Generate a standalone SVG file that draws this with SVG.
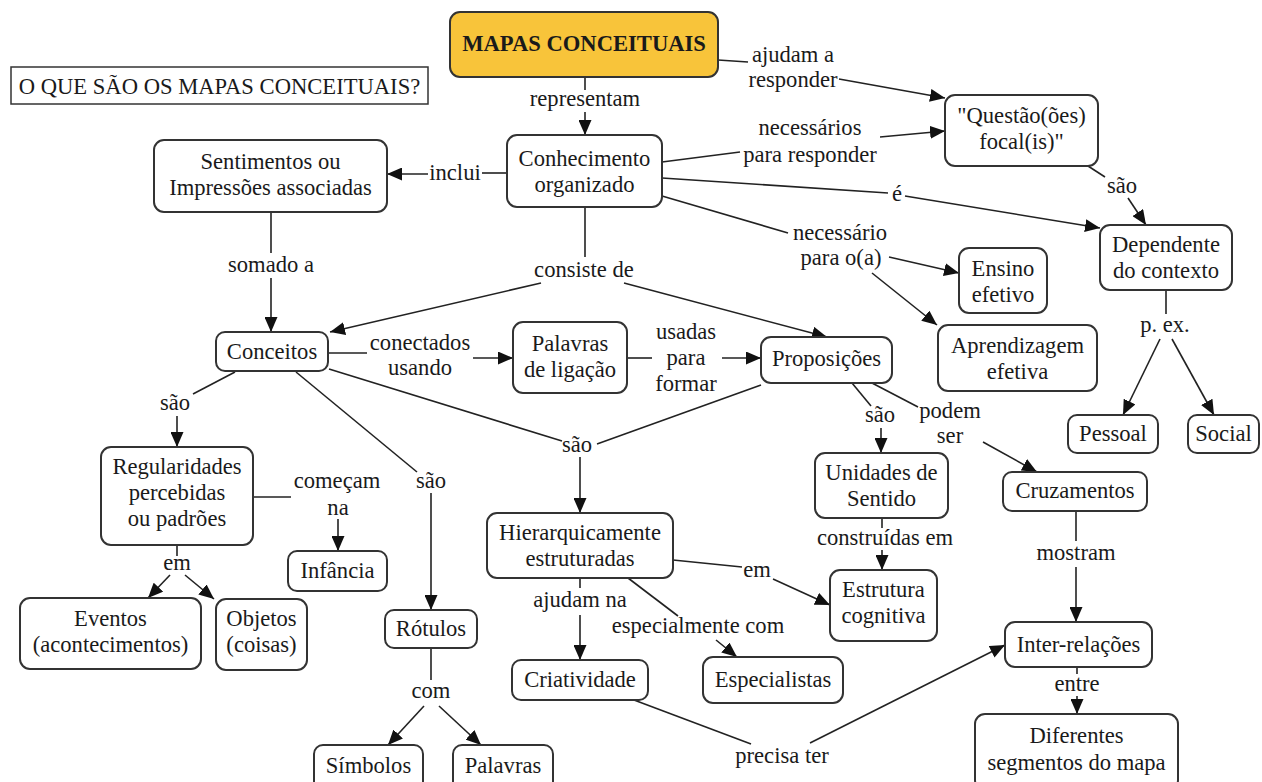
<svg xmlns="http://www.w3.org/2000/svg" width="1262" height="782" viewBox="0 0 1262 782">
<style>
text{font-family:'Liberation Serif','Times New Roman',Tinos,'DejaVu Serif',serif;font-size:22.6px;fill:#1a1a1a;text-anchor:middle}
.n{fill:#fff;stroke:#333;stroke-width:2}
.c line{stroke:#222;stroke-width:1.6}
.a{marker-end:url(#ah)}
.bold{font-weight:bold}
</style>
<defs>
<marker id="ah" markerUnits="userSpaceOnUse" markerWidth="16" markerHeight="13" refX="15" refY="6.5" orient="auto">
<path d="M0,0 L15,6.5 L0,13 z" fill="#111"/>
</marker>
</defs>
<rect width="1262" height="782" fill="#fff"/>
<g font-family="Liberation Serif, serif">
<g id="title"><rect x="11" y="67" width="417" height="37" fill="#fff" stroke="#333" stroke-width="1.5"/><text x="219.5" y="93.5">O QUE SÃO OS MAPAS CONCEITUAIS?</text></g>

<g class="c" id="connectors">
<line x1="585" y1="77" x2="585" y2="90"/><line class="a" x1="585" y1="112" x2="585" y2="135"/>
<line x1="718" y1="60" x2="748" y2="62"/><line class="a" x1="839" y1="79" x2="945" y2="98"/>
<line x1="662" y1="162" x2="740" y2="152"/><line class="a" x1="880" y1="137" x2="945" y2="131"/>
<line x1="662" y1="178" x2="888" y2="193"/><line class="a" x1="905" y1="196" x2="1100" y2="228"/>
<line x1="662" y1="196" x2="788" y2="233"/><line class="a" x1="889" y1="257" x2="959" y2="273"/><line class="a" x1="872" y1="273" x2="937" y2="325"/>
<line x1="507" y1="173" x2="482" y2="173"/><line class="a" x1="428" y1="174" x2="387" y2="174"/>
<line x1="585" y1="207" x2="585" y2="257"/><line class="a" x1="541" y1="283" x2="330" y2="332"/><line class="a" x1="624" y1="283" x2="827" y2="337"/>
<line x1="271" y1="212" x2="271" y2="253"/><line class="a" x1="271" y1="278" x2="271" y2="332"/>
<line x1="328" y1="353" x2="367" y2="353"/><line class="a" x1="473" y1="358" x2="513" y2="358"/>
<line x1="627" y1="358" x2="652" y2="358"/><line class="a" x1="722" y1="358" x2="761" y2="358"/>
<line x1="329" y1="369" x2="562" y2="441"/><line x1="761" y1="385" x2="597" y2="444"/><line class="a" x1="580" y1="457" x2="580" y2="513"/>
<line x1="235" y1="372" x2="193" y2="394"/><line class="a" x1="177" y1="416" x2="177" y2="447"/>
<line x1="253" y1="497" x2="291" y2="497"/><line class="a" x1="338" y1="519" x2="338" y2="551"/>
<line x1="296" y1="372" x2="417" y2="472"/><line class="a" x1="431" y1="493" x2="431" y2="610"/>
<line x1="177" y1="545" x2="177" y2="556"/><line class="a" x1="170" y1="575" x2="148" y2="598"/><line class="a" x1="185" y1="575" x2="214" y2="599"/>
<line x1="431" y1="648" x2="431" y2="680"/><line class="a" x1="424" y1="706" x2="388" y2="745"/><line class="a" x1="439" y1="706" x2="481" y2="745"/>
<line x1="673" y1="560" x2="742" y2="567"/><line class="a" x1="773" y1="579" x2="830" y2="605"/>
<line x1="580" y1="578" x2="580" y2="588"/><line class="a" x1="580" y1="615" x2="580" y2="660"/>
<line x1="628" y1="578" x2="678" y2="616"/><line class="a" x1="716" y1="640" x2="737" y2="657"/>
<line x1="634" y1="700" x2="751" y2="744"/><line class="a" x1="810" y1="743" x2="1005" y2="645"/>
<line x1="852" y1="383" x2="871" y2="406"/><line class="a" x1="881" y1="428" x2="881" y2="453"/>
<line x1="872" y1="383" x2="918" y2="407"/><line class="a" x1="983" y1="442" x2="1037" y2="472"/>
<line x1="882" y1="518" x2="882" y2="528"/><line class="a" x1="882" y1="550" x2="882" y2="570"/>
<line x1="1076" y1="511" x2="1076" y2="541"/><line class="a" x1="1076" y1="567" x2="1076" y2="622"/>
<line x1="1077" y1="667" x2="1077" y2="674"/><line class="a" x1="1077" y1="696" x2="1077" y2="714"/>
<line x1="1088" y1="166" x2="1105" y2="177"/><line class="a" x1="1128" y1="198" x2="1146" y2="225"/>
<line x1="1166" y1="290" x2="1166" y2="314"/><line class="a" x1="1160" y1="339" x2="1123" y2="415"/><line class="a" x1="1172" y1="339" x2="1214" y2="415"/>
</g>

<g id="labels">
<text x="585" y="106">representam</text>
<text x="793" y="62">ajudam a</text><text x="793" y="87">responder</text>
<text x="810" y="135">necessários</text><text x="810" y="162">para responder</text>
<text x="897" y="201">é</text>
<text x="1122" y="193">são</text>
<text x="840" y="240">necessário</text><text x="841" y="265">para o(a)</text>
<text x="455" y="180">inclui</text>
<text x="584" y="277">consiste de</text>
<text x="271" y="272">somado a</text>
<text x="420" y="350">conectados</text><text x="420" y="375">usando</text>
<text x="686" y="339">usadas</text><text x="686" y="365">para</text><text x="686" y="391">formar</text>
<text x="577" y="452">são</text>
<text x="175" y="410">são</text>
<text x="337" y="488">começam</text><text x="338" y="515">na</text>
<text x="431" y="488">são</text>
<text x="177" y="570">em</text>
<text x="431" y="698">com</text>
<text x="757" y="577">em</text>
<text x="580" y="607">ajudam na</text>
<text x="698" y="633">especialmente com</text>
<text x="782" y="763">precisa ter</text>
<text x="880" y="422">são</text>
<text x="950" y="418">podem</text><text x="950" y="443">ser</text>
<text x="885" y="545">construídas em</text>
<text x="1076" y="560">mostram</text>
<text x="1077" y="691">entre</text>
<text x="1165" y="332">p. ex.</text>
</g>

<g id="n-mapas"><rect x="450" y="12" width="268" height="65" rx="10" fill="#F8C43A" stroke="#333" stroke-width="2"/><text class="bold" x="584" y="51">MAPAS CONCEITUAIS</text></g>
<g id="n-conhecimento"><rect class="n" x="507" y="135" width="155" height="72" rx="10"/><text x="584.5" y="166">Conhecimento</text><text x="584.5" y="192">organizado</text></g>
<g id="n-sentimentos"><rect class="n" x="154" y="140" width="233" height="72" rx="10"/><text x="270.5" y="169">Sentimentos ou</text><text x="270.5" y="195">Impressões associadas</text></g>
<g id="n-questao"><rect class="n" x="945" y="95" width="153" height="71" rx="10"/><text x="1021.5" y="123">"Questão(ões)</text><text x="1021.5" y="149">focal(is)"</text></g>
<g id="n-dependente"><rect class="n" x="1100" y="225" width="132" height="65" rx="10"/><text x="1166" y="252">Dependente</text><text x="1166" y="278">do contexto</text></g>
<g id="n-ensino"><rect class="n" x="959" y="248" width="88" height="65" rx="10"/><text x="1003" y="276">Ensino</text><text x="1003" y="302">efetivo</text></g>
<g id="n-aprendizagem"><rect class="n" x="938" y="325" width="159" height="66" rx="10"/><text x="1017.5" y="353">Aprendizagem</text><text x="1017.5" y="379">efetiva</text></g>
<g id="n-pessoal"><rect class="n" x="1068" y="415" width="90" height="38" rx="9"/><text x="1113" y="441">Pessoal</text></g>
<g id="n-social"><rect class="n" x="1188" y="415" width="71" height="38" rx="9"/><text x="1223.5" y="441">Social</text></g>
<g id="n-conceitos"><rect class="n" x="216" y="332" width="112" height="39" rx="9"/><text x="272" y="359">Conceitos</text></g>
<g id="n-palavras-ligacao"><rect class="n" x="513" y="322" width="114" height="71" rx="10"/><text x="570" y="351">Palavras</text><text x="570" y="377">de ligação</text></g>
<g id="n-proposicoes"><rect class="n" x="761" y="337" width="131" height="46" rx="10"/><text x="826.5" y="366">Proposições</text></g>
<g id="n-regularidades"><rect class="n" x="101" y="447" width="152" height="98" rx="10"/><text x="177" y="474">Regularidades</text><text x="177" y="500">percebidas</text><text x="177" y="526">ou padrões</text></g>
<g id="n-infancia"><rect class="n" x="288" y="551" width="99" height="40" rx="9"/><text x="337.5" y="578">Infância</text></g>
<g id="n-eventos"><rect class="n" x="20" y="598" width="181" height="71" rx="10"/><text x="110.5" y="626">Eventos</text><text x="110.5" y="652">(acontecimentos)</text></g>
<g id="n-objetos"><rect class="n" x="216" y="599" width="91" height="71" rx="10"/><text x="261.5" y="626">Objetos</text><text x="261.5" y="652">(coisas)</text></g>
<g id="n-rotulos"><rect class="n" x="385" y="610" width="92" height="38" rx="9"/><text x="431" y="636">Rótulos</text></g>
<g id="n-simbolos"><rect class="n" x="314" y="745" width="109" height="46" rx="9"/><text x="368.5" y="773">Símbolos</text></g>
<g id="n-palavras"><rect class="n" x="453" y="745" width="100" height="46" rx="9"/><text x="503" y="773">Palavras</text></g>
<g id="n-hierarquicamente"><rect class="n" x="487" y="513" width="186" height="65" rx="10"/><text x="580" y="540">Hierarquicamente</text><text x="580" y="566">estruturadas</text></g>
<g id="n-criatividade"><rect class="n" x="512" y="660" width="136" height="40" rx="9"/><text x="580" y="687">Criatividade</text></g>
<g id="n-especialistas"><rect class="n" x="703" y="657" width="140" height="46" rx="10"/><text x="773" y="687">Especialistas</text></g>
<g id="n-estrutura"><rect class="n" x="830" y="570" width="107" height="71" rx="10"/><text x="883.5" y="597">Estrutura</text><text x="883.5" y="623">cognitiva</text></g>
<g id="n-unidades"><rect class="n" x="815" y="453" width="133" height="65" rx="10"/><text x="881.5" y="480">Unidades de</text><text x="881.5" y="506">Sentido</text></g>
<g id="n-cruzamentos"><rect class="n" x="1003" y="472" width="144" height="39" rx="9"/><text x="1075" y="498">Cruzamentos</text></g>
<g id="n-inter"><rect class="n" x="1005" y="622" width="147" height="45" rx="10"/><text x="1078.5" y="652">Inter-relações</text></g>
<g id="n-diferentes"><rect class="n" x="975" y="714" width="203" height="76" rx="10"/><text x="1076.5" y="743">Diferentes</text><text x="1076.5" y="770">segmentos do mapa</text></g>
</g>
</svg>
